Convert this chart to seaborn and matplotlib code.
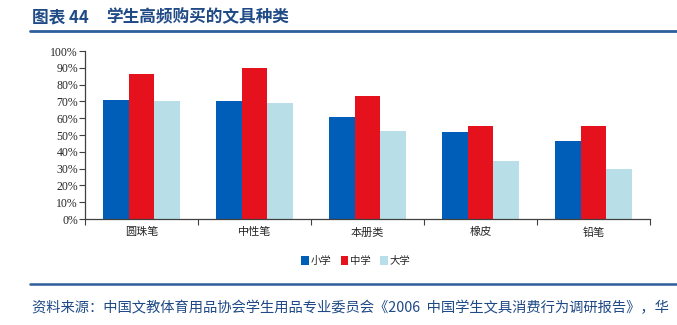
import matplotlib
matplotlib.use("Agg")
import matplotlib.pyplot as plt
import seaborn as sns
import pandas as pd
from matplotlib.ticker import PercentFormatter, FixedLocator
from matplotlib.lines import Line2D
from matplotlib.patches import Patch

categories = ["圆珠笔", "中性笔", "本册类", "橡皮", "铅笔"]
groups = ["小学", "中学", "大学"]
primary = [71, 70.5, 61, 52, 46.5]
middle = [86.5, 90, 73, 55.5, 55.5]
college = [70, 69, 52.5, 34.5, 29.5]
yticks = list(range(0, 101, 10))

colors = ["#005EB8", "#E5121D", "#B8DEE8"]

rows = []
for g, vals in zip(groups, [primary, middle, college]):
    for c, v in zip(categories, vals):
        rows.append({"category": c, "group": g, "value": v})
df = pd.DataFrame(rows)

sns.set_theme(style="white")
plt.rcParams["font.family"] = ["Liberation Serif", "Noto Sans CJK SC", "DejaVu Sans"]

fig = plt.figure(figsize=(6.77, 3.25), dpi=100)
ax = fig.add_axes([85 / 677, 1 - 219 / 325, (650 - 85) / 677, (219 - 51) / 325])

sns.barplot(data=df, x="category", y="value", hue="group", order=categories,
            hue_order=groups, palette=colors, width=0.69, gap=0,
            saturation=1, ax=ax, legend=False, edgecolor="none")

ax.set_ylim(0, 100)
ax.set_xlim(-0.5, len(categories) - 0.5)
ax.set_yticks(yticks)
ax.yaxis.set_major_formatter(PercentFormatter(100, decimals=0))
ax.set_xlabel("")
ax.set_ylabel("")

for s in ["top", "right"]:
    ax.spines[s].set_visible(False)
for s in ["left", "bottom"]:
    ax.spines[s].set_color("#404040")
    ax.spines[s].set_linewidth(0.9)

ax.tick_params(axis="y", which="major", direction="out", length=4, width=0.8,
               color="#404040", left=True, labelsize=8.5, pad=1)
ax.tick_params(axis="x", which="major", length=0, labelsize=8, pad=6)
ax.xaxis.set_minor_locator(FixedLocator([i - 0.5 for i in range(len(categories) + 1)]))
ax.tick_params(axis="x", which="minor", direction="out", length=4, width=0.8,
               color="#404040", bottom=True)
for lab in ax.get_yticklabels():
    lab.set_family(["Liberation Serif"])
for lab in ax.get_xticklabels():
    lab.set_family(["Noto Sans CJK SC"])
    lab.set_fontsize(8)

# legend
handles = [Patch(facecolor=c, edgecolor="none", label=g) for c, g in zip(colors, groups)]
fig.legend(handles=handles, loc="center", bbox_to_anchor=(356 / 677, 1 - 261 / 325),
           ncol=3, frameon=False, handlelength=0.7, handleheight=0.9,
           handletextpad=0.2, columnspacing=0.9,
           prop={"family": "Noto Sans CJK SC", "size": 7.5})

# header
fig.text(32 / 677, 1 - 17 / 325, "图表 44",
         family=["Noto Sans CJK SC"], fontsize=12, fontweight="bold",
         color="#1F4A86", va="center", ha="left")
fig.text(106 / 677, 1 - 17 / 325, "学生高频购买的文具种类",
         family=["Noto Sans CJK SC"], fontsize=12, fontweight="bold",
         color="#1F4A86", va="center", ha="left")
fig.add_artist(Line2D([30 / 677, 1], [1 - 31 / 325] * 2, color="#2E5E9C", lw=2))

# footer
fig.add_artist(Line2D([30 / 677, 1], [1 - 284 / 325] * 2, color="#2E5E9C", lw=1.8))
fig.text(32 / 677, 1 - 308 / 325,
         "资料来源：中国文教体育用品协会学生用品专业委员会《2006  中国学生文具消费行为调研报告》，华",
         family=["Noto Sans CJK SC"], fontsize=10.3, style="italic",
         color="#1F4A86", va="center", ha="left")

fig.savefig("out.png", dpi=100)
